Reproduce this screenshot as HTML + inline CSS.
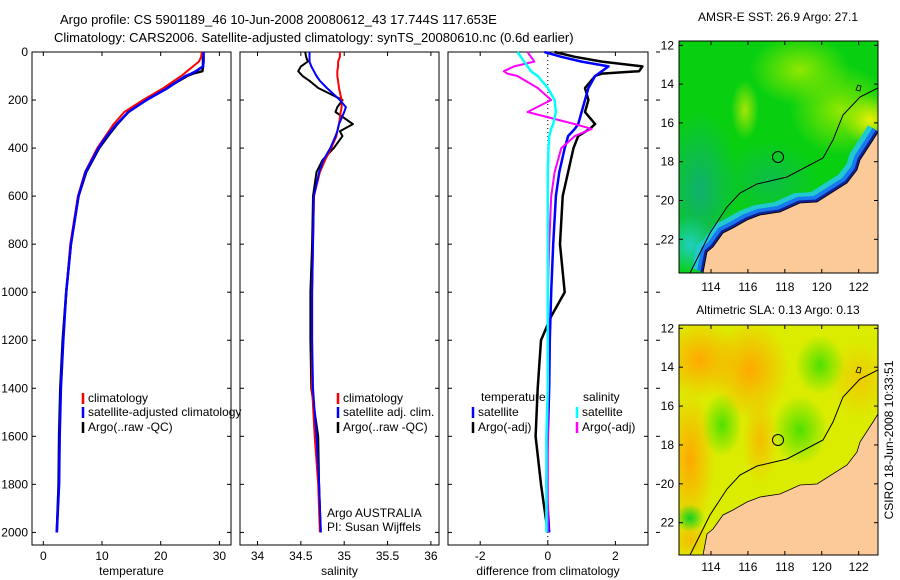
<!DOCTYPE html>
<html><head><meta charset="utf-8"><style>
body{margin:0;background:#fff;}
svg{display:block;font-family:"Liberation Sans",sans-serif;}
text{font-size:12px;fill:#000;}
</style></head><body>
<svg id="fig" width="900" height="580" viewBox="0 0 900 580" xmlns="http://www.w3.org/2000/svg">
<defs>
<radialGradient id="g1a"><stop offset="0" stop-color="#90e800"/><stop offset="1" stop-color="#90e800" stop-opacity="0"/></radialGradient>
<radialGradient id="g1b"><stop offset="0" stop-color="#e8f000"/><stop offset="1" stop-color="#e8f000" stop-opacity="0"/></radialGradient>
<radialGradient id="g1c"><stop offset="0" stop-color="#10b070"/><stop offset="1" stop-color="#10b070" stop-opacity="0"/></radialGradient>
<radialGradient id="g1d"><stop offset="0" stop-color="#20d0c0"/><stop offset="1" stop-color="#20d0c0" stop-opacity="0"/></radialGradient>
<radialGradient id="g2o"><stop offset="0" stop-color="#ffa800"/><stop offset="1" stop-color="#ffa800" stop-opacity="0"/></radialGradient>
<radialGradient id="g2g"><stop offset="0" stop-color="#50e000"/><stop offset="1" stop-color="#50e000" stop-opacity="0"/></radialGradient>
<radialGradient id="g2b"><stop offset="0" stop-color="#10d020"/><stop offset="1" stop-color="#10d020" stop-opacity="0"/></radialGradient>
<clipPath id="cm1"><rect x="679" y="41" width="199" height="232"/></clipPath>
<clipPath id="cm2"><rect x="679" y="325" width="199" height="230"/></clipPath>
</defs>
<text x="60" y="24" style="font-size:13px">Argo profile: CS 5901189_46 10-Jun-2008 20080612_43 17.744S 117.653E</text>
<text x="54" y="42" style="font-size:13px">Climatology: CARS2006. Satellite-adjusted climatology: synTS_20080610.nc (0.6d earlier)</text>

<!-- Map 1 -->
<g>
<text x="778" y="21" text-anchor="middle">AMSR-E SST: 26.9 Argo: 27.1</text>
<g clip-path="url(#cm1)">
<rect x="679" y="41" width="199" height="232" fill="#08d010"/>
<ellipse cx="700" cy="190" rx="40" ry="80" fill="url(#g1c)"/>
<ellipse cx="770" cy="180" rx="50" ry="40" fill="url(#g1c)" opacity="0.6"/>
<ellipse cx="800" cy="70" rx="50" ry="35" fill="url(#g1a)"/>
<ellipse cx="840" cy="110" rx="50" ry="45" fill="url(#g1a)"/>
<ellipse cx="745" cy="110" rx="14" ry="30" fill="url(#g1b)" opacity="0.7"/>
<ellipse cx="870" cy="120" rx="28" ry="25" fill="url(#g1b)"/>
<ellipse cx="690" cy="245" rx="25" ry="30" fill="url(#g1d)"/>
<polyline points="878,132 873,140 860,160 857,170 847,183 817,202 800,203 780,212 760,215 747,220 733,228 723,233 713,247 707,252 703,273" fill="none" stroke="#20c8d0" stroke-width="14" transform="translate(-4,-3)"/>
<polyline points="878,132 873,140 860,160 857,170 847,183 817,202 800,203 780,212 760,215 747,220 733,228 723,233 713,247 707,252 703,273" fill="none" stroke="#1878f0" stroke-width="8" transform="translate(-2,-2)"/>
<polyline points="878,132 873,140 860,160 857,170 847,183 817,202 800,203 780,212 760,215 747,220 733,228 723,233 713,247 707,252 703,273" fill="none" stroke="#102090" stroke-width="3" transform="translate(-1,-1)"/>
<polygon points="878,132 873,140 860,160 857,170 847,183 817,202 800,203 780,212 760,215 747,220 733,228 723,233 713,247 707,252 703,273 878,273" fill="#fcca98" stroke="#000" stroke-width="0.8"/>
<polyline points="690,273 710,233 727,207 740,193 757,184 787,177 823,158 833,140 843,115 860,97 878,88" fill="none" stroke="#000" stroke-width="1"/>
<path d="M856,90 l2,-5 l3,1 l-1,5z" fill="none" stroke="#000" stroke-width="0.8"/>
<circle cx="778" cy="157" r="5.5" fill="none" stroke="#000" stroke-width="1"/>
</g>
<rect x="679" y="41" width="199" height="232" fill="none" stroke="#000"/>
</g>

<!-- Map 2 -->
<g>
<text x="778" y="314" text-anchor="middle">Altimetric SLA: 0.13 Argo: 0.13</text>
<g clip-path="url(#cm2)">
<rect x="679" y="325" width="199" height="230" fill="#dcec00"/>
<ellipse cx="700" cy="360" rx="40" ry="40" fill="url(#g2o)"/>
<ellipse cx="750" cy="370" rx="40" ry="50" fill="url(#g2o)"/>
<ellipse cx="690" cy="460" rx="25" ry="70" fill="url(#g2o)"/>
<ellipse cx="760" cy="440" rx="18" ry="45" fill="url(#g2o)" opacity="0.7"/>
<ellipse cx="690" cy="540" rx="20" ry="20" fill="url(#g2o)" opacity="0.7"/>
<ellipse cx="860" cy="380" rx="30" ry="40" fill="url(#g2o)" opacity="0.5"/>
<ellipse cx="722" cy="425" rx="20" ry="32" fill="url(#g2g)"/>
<ellipse cx="800" cy="430" rx="28" ry="35" fill="url(#g2g)"/>
<ellipse cx="820" cy="365" rx="25" ry="30" fill="url(#g2g)"/>
<ellipse cx="690" cy="518" rx="15" ry="14" fill="url(#g2b)"/>
<polygon points="878,414 873,422 860,442 857,452 847,465 817,484 800,485 780,494 760,497 747,502 733,510 723,515 713,529 707,534 703,555 878,555" fill="#fcca98" stroke="#000" stroke-width="0.8"/>
<polyline points="690,555 710,515 727,489 740,475 757,466 787,459 823,440 833,422 843,397 860,379 878,370" fill="none" stroke="#000" stroke-width="1"/>
<path d="M856,372 l2,-5 l3,1 l-1,5z" fill="none" stroke="#000" stroke-width="0.8"/>
<circle cx="778" cy="440" r="5.5" fill="none" stroke="#000" stroke-width="1"/>
</g>
<rect x="679" y="325" width="199" height="230" fill="none" stroke="#000"/>
</g>
<text transform="translate(893,440) rotate(-90)" text-anchor="middle">CSIRO 18-Jun-2008 10:33:51</text>
<g id="plots"></g>
</svg>
<script>
// ---- data ----
const tDepth = [0,20,40,60,80,90,100,150,200,250,300,350,400,500,600,800,1000,1200,1400,1600,1800,2000];
const tClim  = [27.0,26.9,26.5,25.5,24.5,24.0,23.5,20.5,17.0,13.8,12.0,10.6,9.2,7.1,5.9,4.6,3.9,3.4,3.0,2.8,2.7,2.3];
const tSat   = [27.3,27.3,27.3,27.2,26.0,25.2,24.2,21.2,17.6,14.5,12.5,10.8,9.4,7.2,6.0,4.7,3.9,3.4,3.0,2.8,2.7,2.3];
const tArgo  = [27.2,27.2,27.2,27.2,27.1,25.5,24.5,21.0,17.5,14.5,12.6,11.0,9.5,7.3,6.0,4.7,3.9,3.3,2.9,2.7,2.6,2.3];

const sDepth = [0,20,40,60,80,100,120,150,200,230,250,300,330,350,400,450,500,600,800,1000,1200,1400,1600,1800,2000];
const sClim  = [34.95,34.95,34.93,34.93,34.92,34.92,34.93,34.94,34.97,34.97,34.96,34.94,34.92,34.91,34.85,34.78,34.72,34.65,34.64,34.63,34.63,34.63,34.66,34.70,34.72];
const sSat   = [34.60,34.60,34.60,34.62,34.65,34.68,34.72,34.80,34.95,35.02,35.00,34.94,34.92,34.90,34.84,34.76,34.71,34.65,34.64,34.63,34.63,34.64,34.68,34.71,34.73];
const sArgo  = [34.55,34.56,34.58,34.50,34.47,34.52,34.60,34.70,34.98,34.92,34.90,35.10,34.95,34.98,34.88,34.75,34.68,34.64,34.63,34.61,34.61,34.62,34.70,34.71,34.73];

const dDepth   = [0,20,40,60,80,90,100,150,200,250,300,320,350,400,500,600,800,1000,1100,1200,1400,1600,1800,2000];
const dTempSat = [-0.1,0.4,1.0,1.8,1.6,1.5,1.4,1.2,1.1,1.0,0.9,0.8,0.6,0.5,0.34,0.24,0.16,0.1,0.08,0.06,0.04,0.0,-0.04,0.04];
const dTempArgo= [0.2,0.8,1.6,2.8,2.7,1.6,1.4,1.1,1.2,1.1,1.4,1.24,0.9,0.76,0.6,0.44,0.36,0.5,0.1,-0.2,-0.3,-0.36,-0.2,0.0];
const dSalSat  = [-0.9,-0.8,-0.7,-0.6,-0.5,-0.4,-0.3,0.0,0.2,0.24,0.16,0.1,0.04,0.02,0.0,0.0,0.0,0.0,0.0,0.0,0.0,-0.04,-0.04,-0.04];
const dSalArgo = [-0.6,-0.5,-0.4,-1.0,-1.3,-1.2,-0.9,-0.3,0.1,-0.6,0.8,1.3,0.8,0.4,0.2,0.1,0.04,0.0,0.0,0.0,0.0,0.0,0.0,0.0];

const depthTicks = [0,200,400,600,800,1000,1200,1400,1600,1800,2000];
const tTicks = [0,10,20,30];
const sTicks = [34,34.5,35,35.5,36];
const dTicks = [-2,0,2];
const latTicks = [12,14,16,18,20,22];
const lonTicks = [114,116,118,120,122];

// ---- axes ----
const NS='http://www.w3.org/2000/svg';
const root=document.getElementById('plots');
const TOP=52, BOT=545;
const yD = d => 52 + d*0.2402;
function mk(tag,attrs,parent){const e=document.createElementNS(NS,tag);for(const k in attrs)e.setAttribute(k,attrs[k]);(parent||root).appendChild(e);return e;}
function txt(x,y,s,anchor,parent){const t=mk('text',{x:x,y:y,'text-anchor':anchor||'start'},parent);t.textContent=s;return t;}

const panels=[
 {name:'temperature-panel',x0:32,x1:231,sx:v=>43.3+5.87*v,ticks:tTicks,label:'temperature'},
 {name:'salinity-panel',x0:240,x1:439,sx:v=>257.5+86.7*(v-34),ticks:sTicks,label:'salinity'},
 {name:'difference-panel',x0:448,x1:648,sx:v=>547.8+33.8*v,ticks:dTicks,label:'difference from climatology'}
];
panels.forEach((p,i)=>{
  const g=mk('g',{});
  
  
  mk('rect',{x:p.x0,y:TOP,width:p.x1-p.x0,height:BOT-TOP,fill:'none',stroke:'#000','stroke-width':1},g);
  depthTicks.forEach(d=>{
    const y=yD(d);
    mk('line',{x1:p.x0,x2:p.x0+4,y1:y,y2:y,stroke:'#000'},g);
    mk('line',{x1:p.x1-4,x2:p.x1,y1:y,y2:y,stroke:'#000'},g);
    if(i==0){const t=txt(28,y+4,String(d),'end',g);}
  });
  if(i==2){depthTicks.forEach(d=>{const y=yD(d);mk('line',{x1:p.x1+8,x2:p.x1+12,y1:y,y2:y,stroke:'#000'},g);});}
  p.ticks.forEach(v=>{
    const x=p.sx(v);
    mk('line',{x1:x,x2:x,y1:TOP,y2:TOP+4,stroke:'#000'},g);
    mk('line',{x1:x,x2:x,y1:BOT-4,y2:BOT,stroke:'#000'},g);
    const t=txt(x,560,String(v),'middle',g);
    
    
  });
  const xl=txt((p.x0+p.x1)/2,575,p.label,'middle',g);
  
  
  p.g=g;
});
function line(p,depths,vals,color,w,name){
  const pts=depths.map((d,k)=>p.sx(vals[k]).toFixed(1)+','+yD(d).toFixed(1)).join(' ');
  const e=mk('polyline',{points:pts,fill:'none',stroke:color,'stroke-width':w,'stroke-linejoin':'round'},p.g);
  
  
}
const zl=mk('line',{x1:panels[2].sx(0),x2:panels[2].sx(0),y1:TOP,y2:BOT,stroke:'#000','stroke-dasharray':'1,3'},panels[2].g);



line(panels[0],tDepth,tArgo,'#000',2.5,'temp-argo-line');
line(panels[0],tDepth,tClim,'#f00',2,'temp-climatology-line');
line(panels[0],tDepth,tSat,'#00f',2.5,'temp-satellite-line');
line(panels[1],sDepth,sArgo,'#000',2,'sal-argo-line');
line(panels[1],sDepth,sClim,'#f00',2,'sal-climatology-line');
line(panels[1],sDepth,sSat,'#00f',2,'sal-satellite-line');
line(panels[2],dDepth,dTempArgo,'#000',2.5,'diff-temp-argo-line');
line(panels[2],dDepth,dTempSat,'#00f',2.5,'diff-temp-satellite-line');
line(panels[2],dDepth,dSalArgo,'#f0f',2,'diff-sal-argo-line');
line(panels[2],dDepth,dSalSat,'#0ff',2.5,'diff-sal-satellite-line');

function legend(g,x,y,color,label){
  const l=mk('line',{x1:x,x2:x,y1:y-9,y2:y+2,stroke:color,'stroke-width':2.5},g);
  
  
  const t=txt(x+5,y,label,'start',g);
  
  
}
legend(panels[0].g,83,402,'#f00','climatology');
legend(panels[0].g,83,416,'#00f','satellite-adjusted climatology');
legend(panels[0].g,83,431,'#000','Argo(..raw -QC)');
legend(panels[1].g,338,402,'#f00','climatology');
legend(panels[1].g,338,416,'#00f','satellite adj. clim.');
legend(panels[1].g,338,431,'#000','Argo(..raw -QC)');
txt(481,401,'temperature','start',panels[2].g);
txt(583,401,'salinity','start',panels[2].g);
legend(panels[2].g,473,416,'#00f','satellite');
legend(panels[2].g,473,431,'#000','Argo(-adj)');
legend(panels[2].g,577,416,'#0ff','satellite');
legend(panels[2].g,577,431,'#f0f','Argo(-adj)');
txt(327,517,'Argo AUSTRALIA','start',panels[1].g);
txt(327,531,'PI: Susan Wijffels','start',panels[1].g);

function mapAxes(top,bottom,lat12y,lat22y,lonLabelY){
  const g=mk('g',{});
  
  
  const ly=v=>lat12y+(v-12)*(lat22y-lat12y)/10;
  const lx=v=>711+(v-114)*18.46;
  latTicks.forEach(v=>{const y=ly(v);mk('line',{x1:679,x2:683,y1:y,y2:y,stroke:'#000'},g);mk('line',{x1:874,x2:878,y1:y,y2:y,stroke:'#000'},g);
    const t=txt(674,y+4,String(v),'end',g);});
  lonTicks.forEach(v=>{const x=lx(v);mk('line',{x1:x,x2:x,y1:top,y2:top+4,stroke:'#000'},g);mk('line',{x1:x,x2:x,y1:bottom-4,y2:bottom,stroke:'#000'},g);
    const t=txt(x,lonLabelY,String(v),'middle',g);});
}
mapAxes(41,273,45.3,239.3,291);
mapAxes(325,555,328.3,522.7,571);
</script>
</body></html>
